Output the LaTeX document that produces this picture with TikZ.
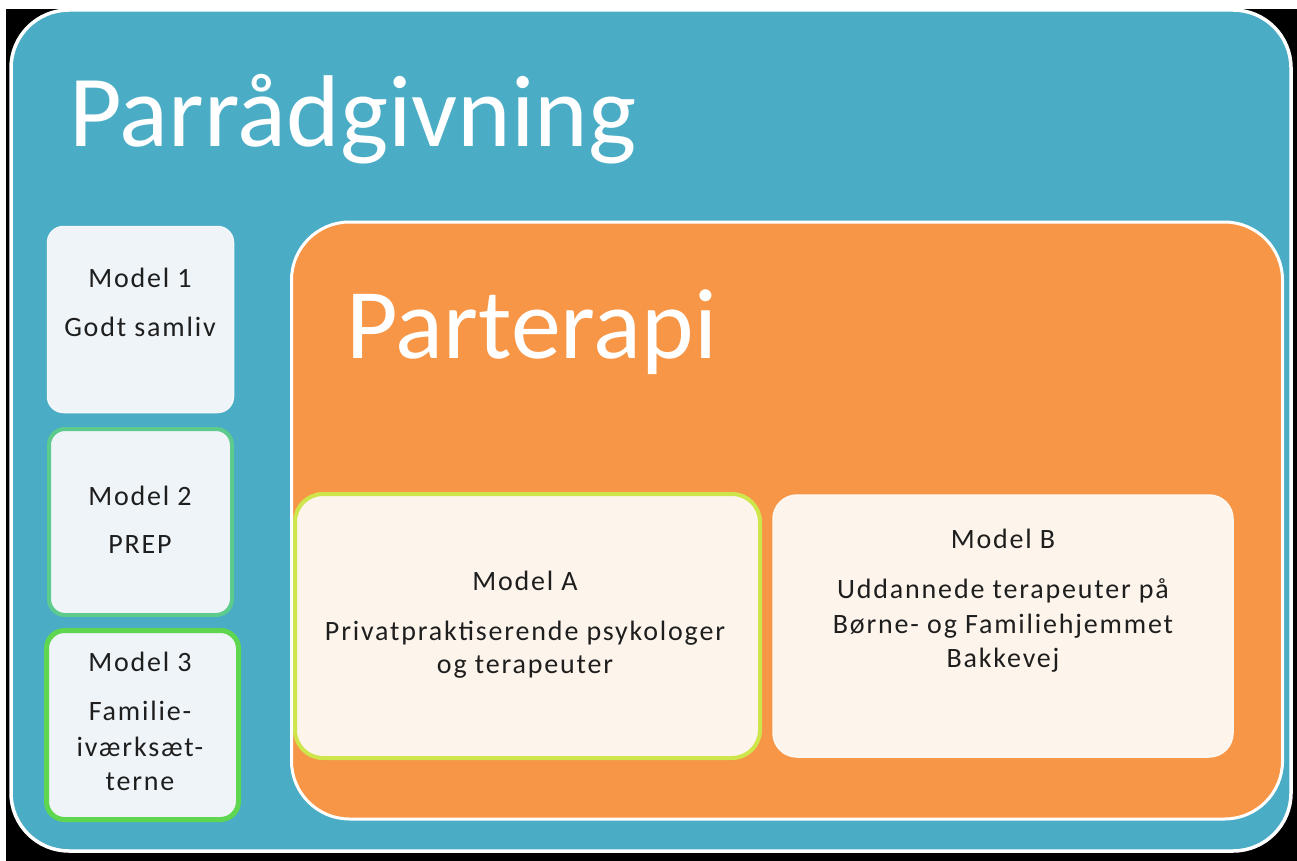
\documentclass[tikz,border=0pt]{standalone}
\usepackage{fontspec}
\setmainfont{Carlito}
\newfontfamily\smallfont[LetterSpace=6.5]{Carlito}
\definecolor{aqua}{HTML}{4BACC6}
\definecolor{orng}{HTML}{F79646}
\definecolor{cream}{HTML}{FDF5EC}
\definecolor{paleblue}{HTML}{EEF4F8}
\definecolor{mint}{HTML}{5CCB8B}
\definecolor{brightgreen}{HTML}{5ED64F}
\definecolor{ygreen}{HTML}{CFE54C}
\definecolor{txt}{HTML}{1E1E1E}
\tikzset{
  box/.style={rectangle, inner sep=0pt, outer sep=0pt},
  bigtitle/.style={anchor=base west, inner sep=0pt, text=white, font=\fontsize{102}{110}\selectfont},
  tline/.style={anchor=base, inner sep=0pt, text=txt, font=\smallfont\fontsize{28}{34}\selectfont},
}
\begin{document}
\begin{tikzpicture}[x=1pt,y=-1pt]
\useasboundingbox (0,0) rectangle (1297,861);
\fill[white] (0,0) rectangle (1297,861);
\fill[black] (6,6) rectangle (1297,861);
\fill[white] (0,0) rectangle (1297,9);
% outer blue box
\node[box, fill=aqua, draw=white, line width=3.5pt, rounded corners=58pt,
  minimum width=1280pt, minimum height=841pt] (outer) at (651,430.5) {};
\node[bigtitle] (t1) at (69,147) {Parrådgivning};
% left models
\node[box, fill=paleblue, draw=paleblue!60!white, line width=1.5pt, rounded corners=16pt,
  minimum width=186pt, minimum height=186pt] (m1) at (140.5,319.5) {};
\node[box, fill=paleblue, draw=mint, line width=4pt, rounded corners=16pt,
  minimum width=183pt, minimum height=186pt] (m2) at (140.5,522) {};
\node[box, fill=paleblue, draw=brightgreen, line width=5pt, rounded corners=18pt,
  minimum width=192pt, minimum height=189pt] (m3) at (142.5,725) {};
\node[tline] (m1a) at (140,287) {Model 1};
\node[tline] (m1b) at (140,336) {Godt samliv};
\node[tline] (m2a) at (140,505) {Model 2};
\node[tline] (m2b) at (140,553) {PREP};
\node[tline] (m3a) at (140,671) {Model 3};
\node[tline] (m3b) at (140,720) {Familie-};
\node[tline] (m3c) at (140,756) {iværksæt-};
\node[tline] (m3d) at (140,790) {terne};
% orange box
\node[box, fill=orng, draw=white, line width=3pt, rounded corners=58pt,
  minimum width=991pt, minimum height=597pt] (inner) at (787,520.5) {};
\node[bigtitle, font=\fontsize{100}{110}\selectfont] (t2) at (346,358) {Parterapi};
% model A and B
\node[box, fill=cream, draw=ygreen, line width=4pt, rounded corners=28pt,
  minimum width=465pt, minimum height=264pt] (ma) at (527.5,626) {};
\node[box, fill=cream, draw=cream!70!white, line width=1.5pt, rounded corners=24pt,
  minimum width=460pt, minimum height=262pt] (mb) at (1003,626) {};
\node[tline] (maa) at (525,590) {Model A};
\node[tline] (mab) at (525,640) {Privatpraktiserende psykologer};
\node[tline] (mac) at (525,673) {og terapeuter};
\node[tline] (mba) at (1003,548) {Model B};
\node[tline] (mbb) at (1003,598) {Uddannede terapeuter på};
\node[tline] (mbc) at (1003,633) {Børne- og Familiehjemmet};
\node[tline] (mbd) at (1003,667) {Bakkevej};
\end{tikzpicture}
\end{document}
